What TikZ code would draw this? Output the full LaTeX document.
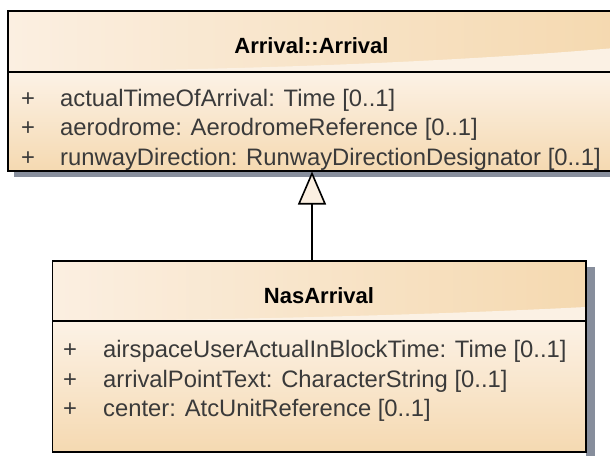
\documentclass[tikz,border=0pt]{standalone}
\usepackage{fontspec}
\setmainfont{Liberation Sans}
\usetikzlibrary{arrows.meta}
\definecolor{hdrL}{HTML}{FBEFE1}
\definecolor{hdrR}{HTML}{F5D9B0}
\definecolor{bodyT}{HTML}{FCF2E6}
\definecolor{bodyB}{HTML}{F5D9B1}
\definecolor{lite}{HTML}{FBF1E4}
\definecolor{shadowc}{HTML}{878E9C}
\definecolor{txt}{HTML}{3A3A3A}
\definecolor{tri}{HTML}{FBEFE1}
\tikzset{
  attr/.style={anchor=base west, inner sep=0pt, text=txt, font=\fontsize{23.8}{23.8}\selectfont},
  plus/.style={anchor=base, inner sep=0pt, text=txt, font=\fontsize{23.8}{23.8}\selectfont},
  title/.style={anchor=base, inner sep=0pt, font=\bfseries\fontsize{22}{22}\selectfont},
  border/.style={draw=black, line width=1.6pt},
  gen/.style={draw=black, line width=1.6pt, -{Triangle[length=33pt, width=28pt, fill=tri, line width=1.6pt]}},
}
\begin{document}
\begin{tikzpicture}[x=1pt, y=-1pt]
\useasboundingbox (0,0) rectangle (610,455);
\clip (0,0) rectangle (610,455);
% ---------- Arrival::Arrival ----------
\fill[shadowc] (14,171) rectangle (620,177);
\shade[left color=hdrL, right color=hdrR] (8,11) rectangle (615,72);
\fill[lite] (8,72) .. controls (250,70) and (450,62) .. (615,48) -- (615,72) -- cycle;
\shade[top color=bodyT, bottom color=bodyB] (8,72) rectangle (615,171);
\draw[border] (8,11) rectangle (615,171);
\draw[border] (8,72) -- (615,72);
\node[title] (t1) at (311.5,53) {Arrival::Arrival};
\node[plus] (p11) at (28,106) {+};
\node[attr] (a11) at (60,106) {actualTimeOfArrival: Time [0..1]};
\node[plus] (p12) at (28,135.5) {+};
\node[attr] (a12) at (60,135.5) {aerodrome: AerodromeReference [0..1]};
\node[plus] (p13) at (28,165) {+};
\node[attr] (a13) at (60,165) {runwayDirection: RunwayDirectionDesignator [0..1]};
% ---------- NasArrival ----------
\fill[shadowc] (586,267) rectangle (595,460);
\shade[left color=hdrL, right color=hdrR] (52.5,261) rectangle (586,321);
\fill[lite] (52.5,321) .. controls (250,320) and (450,314) .. (586,307) -- (586,321) -- cycle;
\shade[top color=bodyT, bottom color=bodyB] (52.5,321) rectangle (586,452);
\draw[border] (52.5,261) rectangle (586,452);
\draw[border] (52.5,321) -- (586,321);
\node[title] (t2) at (319,303) {NasArrival};
\node[plus] (p21) at (70,357) {+};
\node[attr] (a21) at (103,357) {airspaceUserActualInBlockTime: Time [0..1]};
\node[plus] (p22) at (70,387) {+};
\node[attr] (a22) at (103,387) {arrivalPointText: CharacterString [0..1]};
\node[plus] (p23) at (70,416) {+};
\node[attr] (a23) at (103,416) {center: AtcUnitReference [0..1]};
% ---------- generalization ----------
\coordinate (genS) at (312,260);
\coordinate (genT) at (312,171.5);
\draw[gen] (genS) -- (genT);
\end{tikzpicture}
\end{document}
